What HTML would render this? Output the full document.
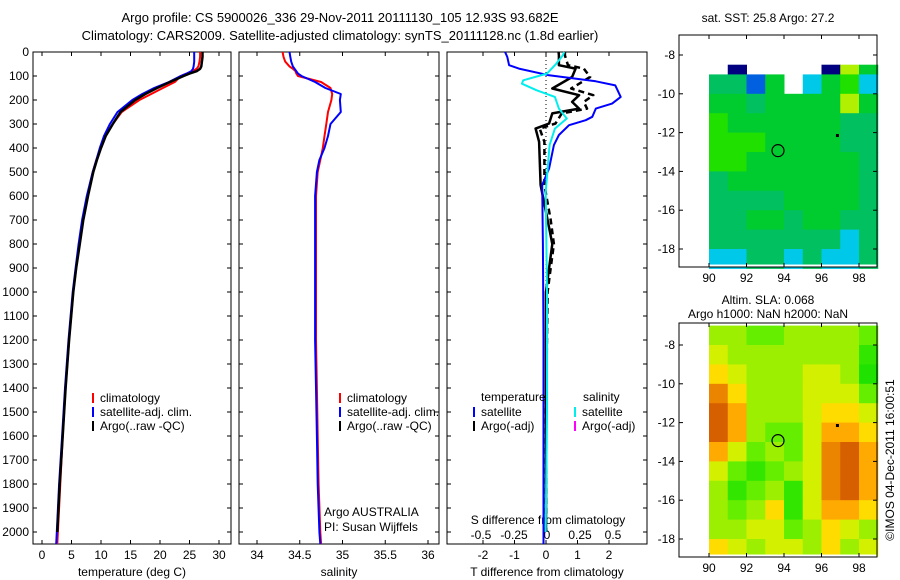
<!DOCTYPE html>
<html><head><meta charset="utf-8"><style>
body{margin:0;background:#fff;}
svg{display:block;font-family:"Liberation Sans",sans-serif;}
text{font-size:12px;fill:#000;}
</style></head><body>
<svg id="c" width="900" height="580" xmlns="http://www.w3.org/2000/svg">
<text x="340" y="22" text-anchor="middle" style="font-size:13px">Argo profile: CS 5900026_336 29-Nov-2011 20111130_105 12.93S 93.682E</text>
<text x="340" y="40" text-anchor="middle" style="font-size:13px">Climatology: CARS2009. Satellite-adjusted climatology: synTS_20111128.nc (1.8d earlier)</text>
<text x="768" y="22" text-anchor="middle">sat. SST: 25.8 Argo: 27.2</text>
<text x="768" y="304" text-anchor="middle">Altim. SLA: 0.068</text>
<text x="768" y="318" text-anchor="middle">Argo h1000: NaN h2000: NaN</text>
<text transform="translate(894,460) rotate(-90)" text-anchor="middle">©IMOS 04-Dec-2011 16:00:51</text>
</svg>
<script>
// ---- data ----
const depths = [0,20,40,60,70,80,90,100,125,150,175,200,250,300,350,400,450,500,600,700,800,900,1000,1200,1400,1600,1800,2000,2050];
const tempArgo = [27.2,27.2,27.1,27.0,26.8,26.2,25,24,21.7,19.5,17.5,15.8,13.3,12,10.8,10,9.3,8.7,7.8,7,6.4,5.8,5.3,4.6,4,3.5,3,2.6,2.5];
const tempClim = [26.8,26.8,26.7,26.5,26.2,25.5,24.5,23.5,22.5,20.5,18.5,16.5,13.5,12,10.8,10,9.2,8.6,7.7,6.9,6.3,5.8,5.3,4.6,4,3.5,3.1,2.7,2.6];
const tempSat = [25.8,25.8,25.8,25.7,25.6,25.3,24.5,23.5,21.5,19,17,15.3,12.8,11.5,10.5,9.8,9.2,8.6,7.6,6.8,6.2,5.7,5.2,4.5,3.9,3.4,2.9,2.5,2.4];
const salClim = [34.30,34.31,34.33,34.38,34.42,34.45,34.46,34.48,34.75,34.86,34.88,34.87,34.83,34.81,34.79,34.77,34.74,34.71,34.69,34.69,34.69,34.69,34.69,34.69,34.7,34.71,34.72,34.74,34.75];
const salSat = [34.38,34.39,34.40,34.42,34.44,34.46,34.48,34.52,34.68,34.80,34.98,34.97,34.98,34.86,34.83,34.79,34.73,34.70,34.68,34.68,34.68,34.68,34.68,34.68,34.69,34.70,34.71,34.73,34.74];
const dSatDepth = [0,21,55,69,97,122,139,187,215,236,270,284,305,346,388,485,554,800,1200,1600,2050];
const dSatT = [-1.3,-1.23,-1.17,-0.86,0.1,1.58,2.2,2.37,2.1,1.58,1.47,1.26,0.73,0.41,0.25,0.1,-0.12,-0.1,-0.08,-0.08,-0.08];
const dArgoDepth = [0,14,55,69,104,152,180,208,236,256,298,319,374,554,700,800,900,1000,1500,2000];
const dArgoT = [0.4,0.41,0.41,0.94,0.83,0.2,1.05,0.83,1.05,0.2,0.1,-0.33,-0.22,-0.17,0.05,0.2,0.1,0,0,0];
const dArgoAdjT = [0.6,0.6,0.7,1.2,1.4,0.8,1.5,1.2,1.3,0.5,0.3,-0.2,-0.05,-0.05,0.15,0.25,0.15,0.05,0,0];
const dSalDepth = [0,14,49,90,118,132,159,187,236,277,319,388,582,1000,1500,2000];
const dSal = [0.13,0.12,0.07,0,-0.18,-0.19,-0.08,0.06,0.09,0.15,0.06,0.02,-0.01,0,0,-0.01];
const sstGrid = [
 [null,0,null,null,null,null,0,6,4],
 [3,3,1,4,null,2,4,5,2],
 [4,4,3,4,4,4,4,6,4],
 [5,4,4,4,4,4,4,3,3],
 [5,5,5,4,4,4,4,3,3],
 [5,5,4,4,4,4,4,4,3],
 [3,4,4,4,4,4,4,4,3],
 [3,3,3,3,4,4,4,4,3],
 [3,3,4,4,3,4,4,3,3],
 [3,3,3,3,3,3,3,2,3],
 [2,2,3,3,2,3,2,2,3]];
const slaGrid = [
 [1.5,1.5,1,1,1.5,1.5,1.5,1.5,1],
 [2,1.5,1.5,1.5,1.5,1.5,1.5,1.5,0.5],
 [2.5,2,1.5,1.5,1.5,2,2,1.5,0.3],
 [3.5,2.5,1.5,1.5,1.5,2,2,2,1],
 [4,3,1.5,1.5,1.5,2,2.5,2.5,2],
 [4,3,1.5,1,1,2,3,3,2.5],
 [3,2,1,1.5,1,2,3.5,4,3],
 [2,1,0.5,1,1.5,2,3.5,4,3],
 [1.5,0.5,1,1.5,0.5,2,3.5,4,3],
 [1.5,1,1.5,2.5,0.5,2,3,3,2.5],
 [1.5,1.5,2,2,1,1.5,2.5,2,1.5],
 [2.5,2,1.5,2,2,1.5,2.5,1.5,2]];
const depthTicks = [0,100,200,300,400,500,600,700,800,900,1000,1100,1200,1300,1400,1500,1600,1700,1800,1900,2000];
const tempTicks = [0,5,10,15,20,25,30];
const salTicks = [34,34.5,35,35.5,36];
const salTickLabels = ["34","34.5","35","35.5","36"];
const dTTicks = [-2,-1,0,1,2];
const dSTicks = [-0.5,-0.25,0,0.25,0.5];
const latTicks = [8,10,12,14,16,18];
const lonTicks = [90,92,94,96,98];

const NS="http://www.w3.org/2000/svg";
const svg=document.getElementById('c');
function mk(tag,attrs,parent){const e=document.createElementNS(NS,tag);for(const k in attrs)e.setAttribute(k,attrs[k]);(parent||svg).appendChild(e);return e;}
function txt(x,y,s,anchor,parent){const t=mk('text',{x:x,y:y,'text-anchor':anchor||'middle'},parent);t.textContent=s;return t;}

// axes functions
const yD = d => 52 + d*0.24;
const xT = t => 42 + t*5.9;
const xS = s => 257 + (s-34)*85.5;
const xDT = v => 546 + v*31.5;
const xDS = v => 547 + v*132;
const xLon = l => 709 + (l-90)*18.75;
const yLatTop = l => 55 + (l-8)*19.4;
const yLatBot = l => 345 + (l-8)*19.4;

const panels=[{x:33,w:198,name:'temperature-panel'},{x:239,w:200,name:'salinity-panel'},{x:447,w:200,name:'difference-panel'}];
panels.forEach((p,i)=>{
  const g=mk('g',{});
  
  
  mk('rect',{x:p.x,y:52,width:p.w,height:492,fill:'none',stroke:'#000','stroke-width':1},g);
  depthTicks.forEach(d=>{
    mk('line',{x1:p.x,x2:p.x+4,y1:yD(d),y2:yD(d),stroke:'#000'},g);
    mk('line',{x1:p.x+p.w-4,x2:p.x+p.w,y1:yD(d),y2:yD(d),stroke:'#000'},g);
    if(i===0) txt(29,yD(d)+4,String(d),'end',g);
  });
});
function xticks(arr,fx,labels,ly,p){
  arr.forEach((v,k)=>{const x=fx(v);
    mk('line',{x1:x,x2:x,y1:544,y2:540,stroke:'#000'});
    mk('line',{x1:x,x2:x,y1:52,y2:56,stroke:'#000'});
    const t=txt(x,ly,labels?labels[k]:String(v));
    
    
  });
}
xticks(tempTicks,xT,null,559);
xticks(salTicks,xS,salTickLabels,559);
xticks(dTTicks,xDT,null,559);
dSTicks.forEach(v=>{const t=txt(xDS(v),539,String(v));
  
  });
let t;
t=txt(132,576,'temperature (deg C)');
t=txt(339,576,'salinity');
t=txt(547,576,'T difference from climatology');
t=txt(548,524,'S difference from climatology');

function line(xs,ds,fx,color,w,name,dash){
  const pts=xs.map((v,k)=>fx(v).toFixed(1)+','+yD(ds[k]).toFixed(1)).join(' ');
  const a={points:pts,fill:'none',stroke:color,'stroke-width':w,'stroke-linejoin':'round'};
  if(dash)a['stroke-dasharray']=dash;
  const e=mk('polyline',a);
  
  
}
// zero line
const z=mk('line',{x1:xDT(0),x2:xDT(0),y1:52,y2:500,stroke:'#000','stroke-dasharray':'1,3'});



line(tempClim,depths,xT,'#ff0000',2,'temp-climatology-line');
line(tempSat,depths,xT,'#0000ff',2,'temp-satellite-line');
line(tempArgo.slice(0,28),depths.slice(0,28),xT,'#000',2.5,'temp-argo-line');
line(salClim,depths,xS,'#ff0000',2,'sal-climatology-line');
line(salSat,depths,xS,'#0000ff',2,'sal-satellite-line');
line(dArgoT,dArgoDepth,xDT,'#000',2.5,'tdiff-argo-line');
line(dArgoAdjT,dArgoDepth,xDT,'#000',2.5,'tdiff-argo-adj-line','6,4');
line(dSatT,dSatDepth,xDT,'#0000ff',2,'tdiff-satellite-line');
line(dSal,dSalDepth,xDS,'#00eeee',2,'sdiff-satellite-line');

// legends
function legend(x,y,color,label,name){
  mk('line',{x1:x,x2:x,y1:y-9,y2:y+1,stroke:color,'stroke-width':2});
  const tt=txt(x+7,y,label,'start');
  
  
}
legend(93,402,'#ff0000','climatology','legend-climatology');
legend(93,416,'#0000ff','satellite-adj. clim.','legend-satellite');
legend(93,430,'#000','Argo(..raw -QC)','legend-argo');
legend(340,402,'#ff0000','climatology','legend2-climatology');
legend(340,416,'#0000ff','satellite-adj. clim.','legend2-satellite');
legend(340,430,'#000','Argo(..raw -QC)','legend2-argo');
t=txt(481,401,'temperature','start');
t=txt(583,401,'salinity','start');
legend(474,416,'#0000ff','satellite','legend-t-satellite');
legend(474,430,'#000','Argo(-adj)','legend-t-argo');
legend(575,416,'#00eeee','satellite','legend-s-satellite');
legend(575,430,'#ff00ff','Argo(-adj)','legend-s-argo');
t=txt(324,516,'Argo AUSTRALIA','start');
t=txt(324,531,'PI: Susan Wijffels','start');

// maps
const sstPal=['#000080','#0060e0','#00c8e8','#00c060','#00cc30','#20e000','#b0f000'];
function slaColor(v){
  const stops=[[0,[0,221,0]],[1,[102,238,0]],[2,[210,240,0]],[2.5,[255,220,0]],[3,[255,170,0]],[4,[214,96,0]]];
  for(let k=0;k<stops.length-1;k++){const [a,ca]=stops[k],[b,cb]=stops[k+1];
    if(v<=b){const f=(v-a)/(b-a);return 'rgb('+ca.map((c,j)=>Math.round(c+(cb[j]-c)*f)).join(',')+')';}}
  return 'rgb(214,96,0)';
}
function mapFrame(top,yl,name){
  const g=mk('g',{});
  
  
  return g;
}
const gTop=mapFrame(35,yLatTop,'sst-map');
sstGrid.forEach((row,r)=>row.forEach((v,c)=>{
  if(v===null)return;
  const y0=Math.max(yLatTop(8+r),yLatTop(8.5));
  const e=mk('rect',{x:xLon(90+c),y:y0,width:xLon(91+c)-xLon(90+c)+0.5,height:yLatTop(9+r)-y0+0.5,fill:sstPal[v]},gTop);
  
  
}));
const gBot=mapFrame(323,yLatBot,'sla-map');
slaGrid.forEach((row,r)=>row.forEach((v,c)=>{
  const y0=Math.max(yLatBot(7+r),323);const y1=Math.min(yLatBot(8+r),556);
  const e=mk('rect',{x:xLon(90+c),y:y0,width:xLon(91+c)-xLon(90+c)+0.5,height:y1-y0+0.5,fill:slaColor(v)},gBot);
  
  
}));
[[35,267,yLatTop,gTop],[323,557,yLatBot,gBot]].forEach(([top,bot,yl,g])=>{
  mk('rect',{x:xLon(90)-0.5,y:yl(18.8),width:877-xLon(90),height:2,fill:'#fff'},g);
  mk('rect',{x:679,y:top,width:198,height:bot-top,fill:'none',stroke:'#000'},g);
  latTicks.forEach(l=>{const y=yl(l);
    mk('line',{x1:679,x2:683,y1:y,y2:y,stroke:'#000'},g);
    mk('line',{x1:873,x2:877,y1:y,y2:y,stroke:'#000'},g);
    txt(675,y+4,'-'+l,'end',g);});
  lonTicks.forEach(l=>{const x=xLon(l);
    mk('line',{x1:x,x2:x,y1:bot,y2:bot-4,stroke:'#000'},g);
    mk('line',{x1:x,x2:x,y1:top,y2:top+4,stroke:'#000'},g);
    txt(x,bot+15,String(l),'middle',g);});
  const c=mk('circle',{cx:xLon(93.68),cy:yl(12.93),r:6,fill:'none',stroke:'#000','stroke-width':1.2},g);
  
  
  mk('rect',{x:xLon(96.85)-1.5,y:yl(12.15)-1.5,width:3,height:3,fill:'#000'},g);
});
</script>
</body></html>
